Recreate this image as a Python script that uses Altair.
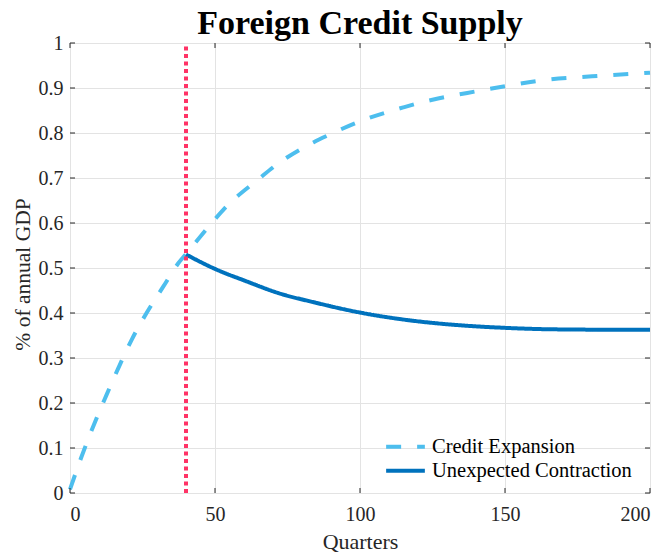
import altair as alt
import pandas as pd

# ---- data ----
series_names = ["Credit Expansion", "Unexpected Contraction"]

exp_q = [0, 4, 8, 12.6, 16.7, 21.3, 26.4, 32.2, 37.4, 40, 49.4, 53.4, 65.5, 70.7,
         83.9, 89.7, 100, 115, 125, 137, 150, 164, 180, 200]
exp_v = [0.008, 0.081, 0.148, 0.218, 0.278, 0.341, 0.400, 0.459, 0.511, 0.531, 0.604,
         0.633, 0.700, 0.727, 0.779, 0.797, 0.826, 0.857, 0.874, 0.889, 0.904, 0.918,
         0.926, 0.934]

con_q = [40, 50, 61, 72, 84, 100, 118, 136, 150, 164, 182, 200]
con_v = [0.530, 0.498, 0.470, 0.444, 0.424, 0.401, 0.383, 0.372, 0.367, 0.364, 0.363, 0.363]

shock_q = [40]
x_ticks = [0, 50, 100, 150, 200]
y_ticks = [0, 0.1, 0.2, 0.3, 0.4, 0.5, 0.6, 0.7, 0.8, 0.9, 1]

# ---- tables ----
lines = pd.concat([
    pd.DataFrame({"q": exp_q, "v": exp_v, "s": series_names[0]}),
    pd.DataFrame({"q": con_q, "v": con_v, "s": series_names[1]}),
], ignore_index=True)
shock = pd.DataFrame({"q": shock_q, "lo": [0], "hi": [1]})
xt = pd.DataFrame({"q": x_ticks})
yt = pd.DataFrame({"v": y_ticks})

W, H = 580, 450
SERIF = "Liberation Serif"
AX = "#262626"

xscale = alt.Scale(domain=[0, 200], nice=False, zero=False)
yscale = alt.Scale(domain=[0, 1], nice=False, zero=False)

xaxis = alt.Axis(values=x_ticks, grid=True, gridColor="#E3E3E3", gridWidth=1,
                 domain=False, ticks=False, labelFont=SERIF, labelFontSize=20,
                 labelColor=AX, labelPadding=11, title="Quarters",
                 titleFont=SERIF, titleFontSize=22, titleFontWeight="normal",
                 titleColor=AX, titleX=290, titleY=55, titleBaseline="alphabetic")
yaxis = alt.Axis(values=y_ticks, format=".1~f", grid=True, gridColor="#E3E3E3",
                 gridWidth=1, domain=False, ticks=False, labelFont=SERIF,
                 labelFontSize=20, labelColor=AX, labelPadding=7,
                 title="% of annual GDP", titleFont=SERIF, titleFontSize=21.5,
                 titleFontWeight="normal", titleColor=AX, titleAngle=-90,
                 titleX=-41, titleY=231, titleAlign="center",
                 titleBaseline="alphabetic")

vline = alt.Chart(shock).mark_rule(color="#FF3366", strokeWidth=4,
                                   strokeDash=[4, 3.5]).encode(
    x=alt.X("q:Q", scale=xscale),
    y=alt.Y("lo:Q", scale=yscale),
    y2="hi:Q",
)

curves = alt.Chart(lines).mark_line(strokeWidth=4, interpolate="monotone",
                                    strokeCap="butt").encode(
    x=alt.X("q:Q", scale=xscale, axis=xaxis),
    y=alt.Y("v:Q", scale=yscale, axis=yaxis),
    color=alt.Color("s:N", scale=alt.Scale(domain=series_names,
                                           range=["#4DBEEE", "#0072BD"]),
                    legend=alt.Legend(title=None, orient="none", legendX=314,
                                      legendY=392, symbolType="stroke",
                                      symbolSize=1500, symbolStrokeWidth=4,
                                      labelFont=SERIF, labelFontSize=20.5,
                                      labelColor="#000000", labelOffset=5,
                                      labelLimit=400, clipHeight=23.5,
                                      rowPadding=0, padding=0)),
    strokeDash=alt.StrokeDash("s:N", scale=alt.Scale(domain=series_names,
                                                     range=[[15, 16], [1, 0]]),
                              legend=None),
    order="q:Q",
)

# inward tick marks on all four sides (MATLAB box style)
tick_style = dict(color=AX, strokeWidth=1)
t_bottom = alt.Chart(xt).mark_rule(**tick_style).encode(
    x=alt.X("q:Q", scale=xscale), y=alt.value(H), y2=alt.value(H - 5))
t_top = alt.Chart(xt).mark_rule(**tick_style).encode(
    x=alt.X("q:Q", scale=xscale), y=alt.value(0), y2=alt.value(5))
t_left = alt.Chart(yt).mark_rule(**tick_style).encode(
    y=alt.Y("v:Q", scale=yscale), x=alt.value(0), x2=alt.value(5))
t_right = alt.Chart(yt).mark_rule(**tick_style).encode(
    y=alt.Y("v:Q", scale=yscale), x=alt.value(W), x2=alt.value(W - 5))

chart = alt.layer(
    curves, vline, t_bottom, t_top, t_left, t_right
).properties(
    width=W, height=H,
    title=alt.TitleParams("Foreign Credit Supply", font=SERIF, fontSize=34,
                          fontWeight="bold", color="#000000", anchor="middle",
                          baseline="alphabetic", offset=-35),
    autosize=alt.AutoSizeParams(type="none"),
    padding={"left": 62, "top": 35, "right": 7, "bottom": 65},
).configure_view(stroke=AX, strokeWidth=1.2).configure(background="white")

chart.save("out.html", embed_options={"renderer": "svg", "actions": False})
